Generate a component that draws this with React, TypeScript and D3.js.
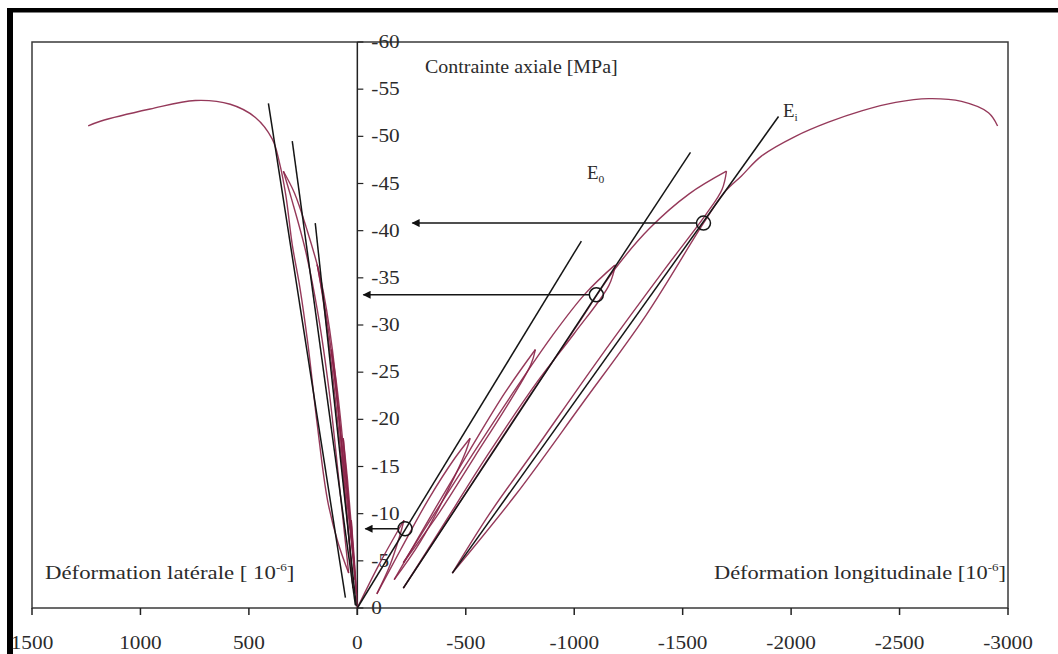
import React from "react";
import * as d3 from "d3";

type P = [number, number];

// ---- tick values ----
const xTicks = [1500, 1000, 500, 0, -500, -1000, -1500, -2000, -2500, -3000];
const yTicks = [-60, -55, -50, -45, -40, -35, -30, -25, -20, -15, -10, -5, 0];

// ---- longitudinal strain loops [strain 1e-6, stress MPa] ----
const longLoad1: P[] = [[0, 0], [-100, -4.6], [-215, -9.3]];
const longUnload1: P[] = [[-215, -9.3], [-195, -7.6], [-150, -4.5], [-90, -1.5]];
const longLoad2: P[] = [[-90, -1.5], [-200, -6.2], [-330, -11.6], [-450, -15.9], [-520, -18]];
const longUnload2: P[] = [[-520, -18], [-500, -16.6], [-420, -12.6], [-290, -7], [-170, -3]];
const longLoad3: P[] = [[-170, -3], [-350, -10.2], [-520, -16.8], [-680, -22.8], [-821, -27.4]];
const longUnload3: P[] = [[-821, -27.4], [-800, -25.8], [-700, -21.8], [-540, -16], [-380, -10.2], [-212, -4.8]];
const longLoad4: P[] = [[-212, -4.8], [-450, -13.4], [-700, -22.2], [-900, -28.9], [-1050, -33.3], [-1190, -36.4]];
const longUnload4: P[] = [[-1190, -36.4], [-1160, -34.2], [-1000, -29.1], [-830, -24], [-600, -16.2], [-380, -8.2], [-212, -2.1]];
const longLoad5: P[] = [[-212, -2.1], [-480, -11.5], [-780, -22], [-1000, -29.5], [-1190, -36], [-1350, -40.3], [-1530, -43.9], [-1702, -46.3]];
const longUnload5: P[] = [[-1702, -46.3], [-1682, -44.4], [-1610, -41.8], [-1420, -36], [-1120, -26.6], [-820, -16.8], [-610, -10], [-438, -3.7]];
const longFinal: P[] = [[-438, -3.7], [-730, -12], [-1035, -21.6], [-1330, -31], [-1596, -40.8], [-1690, -44], [-1771, -45.8], [-1863, -47.9], [-2020, -50], [-2172, -51.5], [-2325, -52.7], [-2482, -53.6], [-2634, -54], [-2786, -53.7], [-2910, -52.5], [-2952, -51.1]];

// ---- lateral strain loops ----
const latLoad1: P[] = [[0, 0], [12, -4.5], [28, -9.3]];
const latUnload1: P[] = [[28, -9.3], [20, -6], [8, -2.5], [4, -1.5]];
const latLoad2: P[] = [[4, -1.5], [25, -8], [45, -13.5], [65, -18]];
const latUnload2: P[] = [[65, -18], [50, -14], [28, -7.5], [10, -3]];
const latLoad3: P[] = [[10, -3], [40, -11], [75, -19.5], [100, -24.5], [120, -27.4]];
const latUnload3: P[] = [[120, -27.4], [100, -23.5], [65, -15.5], [35, -8.5], [15, -4.8]];
const latLoad4: P[] = [[15, -4.8], [55, -14], [100, -23.5], [140, -30.5], [185, -36.4]];
const latUnload4: P[] = [[185, -36.4], [160, -33], [115, -25], [70, -15], [35, -6.5], [20, -2.1]];
const latLoad5: P[] = [[20, -2.1], [45, -9], [75, -17.5], [115, -27.4], [170, -35], [235, -40.3], [290, -44], [341, -46.3]];
const latUnload5: P[] = [[341, -46.3], [305, -43.5], [240, -38], [180, -31], [130, -23], [85, -13.5], [55, -7], [40, -3.7]];
const latFinal: P[] = [[40, -3.7], [90, -7], [138, -11.5], [185, -19.5], [228, -28], [265, -34], [300, -38.5], [330, -43.8], [360, -47.3], [392, -49.7], [470, -52], [586, -53.4], [747, -53.8], [955, -52.9], [1185, -51.6], [1241, -51.1]];

// ---- straight modulus lines ----
const tanE0: P[] = [[0, 0], [-1033, -38.9]];
const tanMid: P[] = [[-212, -2.1], [-1536, -48.3]];
const tanEi: P[] = [[-438, -3.7], [-1942, -52.1]];
const latTan1: P[] = [[55, -1.1], [410, -53.5]];
const latTan2: P[] = [[9, -0.3], [300, -49.5]];
const latTan3: P[] = [[5, -0.2], [194, -40.8]];

// ---- circled points and arrow tips ----
const circlePts: P[] = [[-220, -8.4], [-1102, -33.2], [-1596, -40.8]];
const arrowTipX = [-37, -28, -254];

const curves: P[][] = [
  longLoad1, longUnload1, longLoad2, longUnload2, longLoad3, longUnload3,
  longLoad4, longUnload4, longLoad5, longUnload5, longFinal,
  latLoad1, latUnload1, latLoad2, latUnload2, latLoad3, latUnload3,
  latLoad4, latUnload4, latLoad5, latUnload5, latFinal,
];
const tangents: P[][] = [tanE0, tanMid, tanEi, latTan1, latTan2, latTan3];

const W = 1058;
const H = 654;
const L = 32, R = 1008, T = 42, B = 608;
const FONT = "'Liberation Serif', 'Times New Roman', serif";
const TXT = "#2b2b2b";

function Wide(props: { x: number; y: number; anchor?: string; size?: number; sx?: number; children: React.ReactNode }) {
  const { x, y, anchor = "start", size = 19, sx = 1.12, children } = props;
  return (
    <text transform={`translate(${x},${y}) scale(${sx},1)`} textAnchor={anchor} fontFamily={FONT} fontSize={size} fill={TXT}>
      {children}
    </text>
  );
}

export default function App() {
  const x = d3.scaleLinear().domain([1500, -3000]).range([L, R]);
  const y = d3.scaleLinear().domain([0, -60]).range([B, T]);
  const curveLine = d3.line<P>().x((d) => x(d[0])).y((d) => y(d[1])).curve(d3.curveCatmullRom.alpha(0.5));
  const straight = d3.line<P>().x((d) => x(d[0])).y((d) => y(d[1]));
  const x0 = x(0);

  return (
    <svg width={W} height={H} style={{ position: "absolute", left: 0, top: 0, background: "#fff" }}>
      <defs>
        <marker id="ah" viewBox="0 0 10 10" refX="9" refY="5" markerWidth="9" markerHeight="8" orient="auto-start-reverse" markerUnits="userSpaceOnUse">
          <path d="M0,0 L10,5 L0,10 z" fill="#111" />
        </marker>
      </defs>
      {/* scan frame */}
      <rect x={7} y={8} width={W - 7} height={4.5} fill="#000" />
      <rect x={7} y={8} width={6} height={H - 8} fill="#000" />

      {/* plot border */}
      <rect x={L} y={T} width={R - L} height={B - T} fill="none" stroke="#3a3a3a" strokeWidth={1.5} />

      {/* y axis at x=0 */}
      <line x1={x0} y1={T} x2={x0} y2={B + 7} stroke="#222" strokeWidth={1.5} />
      {yTicks.map((t) => (
        <g key={"yt" + t}>
          <line x1={x0} x2={x0 + 6} y1={y(t)} y2={y(t)} stroke="#222" strokeWidth={1.2} />
          <Wide x={x0 + 14} y={y(t) + 6}>{t === 0 ? "0" : String(t)}</Wide>
        </g>
      ))}

      {/* x axis ticks */}
      {xTicks.map((t) => (
        <g key={"xt" + t}>
          <line x1={x(t)} x2={x(t)} y1={B} y2={B + 7} stroke="#222" strokeWidth={1.5} />
          <Wide x={x(t)} y={649} anchor="middle">{String(t)}</Wide>
        </g>
      ))}

      {/* hysteresis curves */}
      {curves.map((c, i) => (
        <path key={"c" + i} d={curveLine(c) || ""} fill="none" stroke="#8a2448" strokeWidth={1.4} strokeOpacity={0.9} />
      ))}

      {/* modulus lines */}
      {tangents.map((c, i) => (
        <path key={"t" + i} d={straight(c) || ""} fill="none" stroke="#151515" strokeWidth={1.5} />
      ))}

      {/* arrows + circles */}
      {circlePts.map((p, i) => (
        <g key={"cp" + i}>
          <line x1={x(p[0]) - 7} y1={y(p[1])} x2={x(arrowTipX[i])} y2={y(p[1])} stroke="#151515" strokeWidth={1.5} markerEnd="url(#ah)" />
          <circle cx={x(p[0])} cy={y(p[1])} r={7} fill="none" stroke="#151515" strokeWidth={1.5} />
        </g>
      ))}

      {/* labels */}
      <Wide x={425} y={73} sx={1.05}>Contrainte axiale [MPa]</Wide>
      <Wide x={45} y={579} sx={1.2}>
        Déformation latérale [ 10<tspan dy={-8} fontSize={11}>-6</tspan><tspan dy={8}>]</tspan>
      </Wide>
      <Wide x={1006} y={579} anchor="end" sx={1.18}>
        Déformation longitudinale [10<tspan dy={-8} fontSize={11}>-6</tspan><tspan dy={8}>]</tspan>
      </Wide>
      <Wide x={587} y={179} size={18} sx={1.05}>
        E<tspan dy={4} fontSize={11}>0</tspan>
      </Wide>
      <Wide x={783} y={117} size={18} sx={1.05}>
        E<tspan dy={4} fontSize={11}>i</tspan>
      </Wide>
    </svg>
  );
}
